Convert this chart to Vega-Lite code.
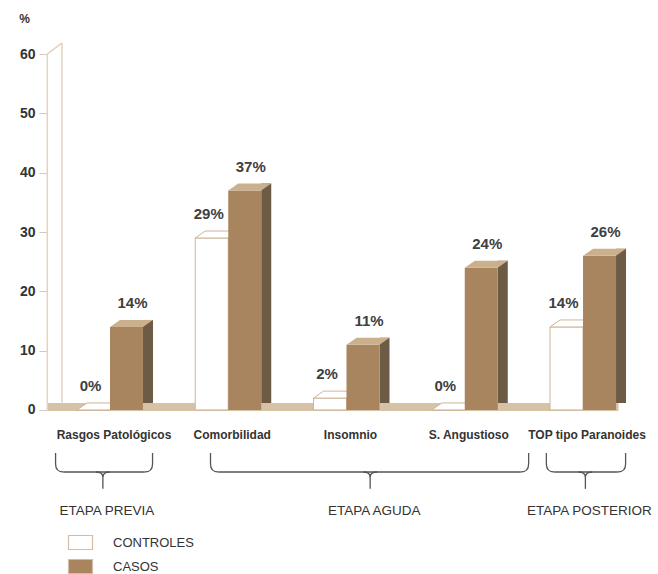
{
  "$schema": "https://vega.github.io/schema/vega-lite/v6.json",
  "width": 599,
  "height": 574,
  "autosize": {"type": "none"},
  "padding": {"left": 47, "top": 0, "right": 12, "bottom": 0},
  "background": "white",
  "config": {
    "view": {"stroke": null},
    "font": "Liberation Sans"
  },
  "datasets": {
    "tasas": [
      {"categoria": "Rasgos Patológicos", "grupo": "CONTROLES", "valor": 0.00},
      {"categoria": "Rasgos Patológicos", "grupo": "CASOS", "valor": 0.14},
      {"categoria": "Comorbilidad", "grupo": "CONTROLES", "valor": 0.29},
      {"categoria": "Comorbilidad", "grupo": "CASOS", "valor": 0.37},
      {"categoria": "Insomnio", "grupo": "CONTROLES", "valor": 0.02},
      {"categoria": "Insomnio", "grupo": "CASOS", "valor": 0.11},
      {"categoria": "S. Angustioso", "grupo": "CONTROLES", "valor": 0.00},
      {"categoria": "S. Angustioso", "grupo": "CASOS", "valor": 0.24},
      {"categoria": "TOP tipo Paranoides", "grupo": "CONTROLES", "valor": 0.14},
      {"categoria": "TOP tipo Paranoides", "grupo": "CASOS", "valor": 0.26}
    ],
    "etapas": [
      {"etapa": "ETAPA PREVIA", "desde": 0.04, "hasta": 0.86, "centro": 0.44},
      {"etapa": "ETAPA AGUDA", "desde": 1.35, "hasta": 4.04, "centro": 2.70},
      {"etapa": "ETAPA POSTERIOR", "desde": 4.19, "hasta": 4.86, "centro": 4.52}
    ],
    "una": [{}]
  },
  "resolve": {"scale": {"x": "independent"}},
  "layer": [
    {
      "description": "Floor, side wall, stage braces and stage names on a category-index x scale",
      "layer": [
        {
          "data": {"name": "una"},
          "mark": {"type": "rect", "color": "#d6c2a6", "yOffset": 1, "y2Offset": -7},
          "encoding": {
            "x": {"datum": -0.025, "type": "quantitative", "scale": {"domain": [-0.0325, 5.0325], "nice": false, "zero": false}, "axis": null},
            "x2": {"datum": 4.8},
            "y": {"datum": 0, "type": "quantitative"},
            "y2": {"datum": 0}
          }
        },
        {
          "data": {"name": "una"},
          "mark": {"type": "rule", "color": "#e2d3c2", "strokeWidth": 1.5},
          "encoding": {
            "x": {"datum": -0.03, "type": "quantitative", "axis": null},
            "y": {"datum": 0, "type": "quantitative"},
            "y2": {"datum": 0.6}
          }
        },
        {
          "data": {"name": "una"},
          "mark": {"type": "rule", "color": "#e2d3c2", "strokeWidth": 1.5},
          "encoding": {
            "x": {"datum": 0.094, "type": "quantitative", "axis": null},
            "y": {"datum": 0.012, "type": "quantitative"},
            "y2": {"datum": 0.619}
          }
        },
        {
          "data": {"name": "una"},
          "mark": {"type": "rule", "color": "#e2d3c2", "strokeWidth": 1.5},
          "encoding": {
            "x": {"datum": -0.03, "type": "quantitative", "axis": null},
            "x2": {"datum": 0.094},
            "y": {"datum": 0.6, "type": "quantitative"},
            "y2": {"datum": 0.619}
          }
        },
        {
          "data": {"name": "etapas"},
          "mark": {"type": "rule", "color": "#555555", "strokeWidth": 1.3, "xOffset": 8, "x2Offset": -8},
          "encoding": {
            "x": {"field": "desde", "type": "quantitative", "axis": null},
            "x2": {"field": "hasta"},
            "y": {"datum": -0.1046, "type": "quantitative"}
          }
        },
        {
          "data": {"name": "etapas"},
          "mark": {"type": "rule", "color": "#555555", "strokeWidth": 1.3, "y2Offset": -8},
          "encoding": {
            "x": {"field": "desde", "type": "quantitative", "axis": null},
            "y": {"datum": -0.0725, "type": "quantitative"},
            "y2": {"datum": -0.1046}
          }
        },
        {
          "data": {"name": "etapas"},
          "mark": {"type": "rule", "color": "#555555", "strokeWidth": 1.3, "y2Offset": -8},
          "encoding": {
            "x": {"field": "hasta", "type": "quantitative", "axis": null},
            "y": {"datum": -0.0725, "type": "quantitative"},
            "y2": {"datum": -0.1046}
          }
        },
        {
          "data": {"name": "etapas"},
          "mark": {"type": "point", "shape": "M 0 -8 Q 0 0 8 0", "size": 4, "filled": false, "stroke": "#555555", "strokeWidth": 1.3, "opacity": 1},
          "encoding": {
            "x": {"field": "desde", "type": "quantitative", "axis": null},
            "y": {"datum": -0.1046, "type": "quantitative"}
          }
        },
        {
          "data": {"name": "etapas"},
          "mark": {"type": "point", "shape": "M 0 -8 Q 0 0 -8 0", "size": 4, "filled": false, "stroke": "#555555", "strokeWidth": 1.3, "opacity": 1},
          "encoding": {
            "x": {"field": "hasta", "type": "quantitative", "axis": null},
            "y": {"datum": -0.1046, "type": "quantitative"}
          }
        },
        {
          "data": {"name": "etapas"},
          "mark": {"type": "point", "shape": "M -7 0 Q 0 0 0 5 Q 0 0 7 0", "size": 4, "filled": false, "stroke": "#555555", "strokeWidth": 1.3, "opacity": 1},
          "encoding": {
            "x": {"field": "centro", "type": "quantitative", "axis": null},
            "y": {"datum": -0.1046, "type": "quantitative"}
          }
        },
        {
          "data": {"name": "etapas"},
          "mark": {"type": "rule", "color": "#555555", "strokeWidth": 1.3, "yOffset": 4},
          "encoding": {
            "x": {"field": "centro", "type": "quantitative", "axis": null},
            "y": {"datum": -0.1046, "type": "quantitative"},
            "y2": {"datum": -0.133}
          }
        },
        {
          "data": {"name": "etapas"},
          "mark": {"type": "text", "fontSize": 13.5, "color": "#333333", "xOffset": 4, "baseline": "middle"},
          "encoding": {
            "x": {"field": "centro", "type": "quantitative", "axis": null},
            "y": {"datum": -0.17, "type": "quantitative"},
            "text": {"field": "etapa"}
          }
        }
      ]
    },
    {
      "description": "Pseudo-3D grouped bars on a band x scale",
      "data": {"name": "tasas"},
      "encoding": {
        "x": {
          "field": "categoria",
          "type": "nominal",
          "sort": ["Rasgos Patológicos", "Comorbilidad", "Insomnio", "S. Angustioso", "TOP tipo Paranoides"],
          "scale": {"paddingInner": 0, "paddingOuter": 0.0325},
          "axis": null
        },
        "y": {
          "field": "valor",
          "type": "quantitative",
          "scale": {"domain": [-0.2766, 0.6914], "nice": false, "zero": false},
          "axis": {
            "values": [0, 0.1, 0.2, 0.3, 0.4, 0.5, 0.6],
            "labelExpr": "round(datum.value * 100)",
            "domain": false,
            "grid": false,
            "tickSize": 8,
            "tickColor": "#d9c8b6",
            "labelFontSize": 14,
            "labelFontWeight": "bold",
            "labelColor": "#333333",
            "labelPadding": 4,
            "title": "%",
            "titleAngle": 0,
            "titleX": -23,
            "titleY": 18,
            "titleAlign": "center",
            "titleBaseline": "middle",
            "titleFontSize": 12,
            "titleFontWeight": "bold",
            "titleColor": "#333333"
          }
        }
      },
      "layer": [
        {
          "transform": [{"filter": "datum.grupo === 'CASOS'"}],
          "mark": {"type": "text", "fontSize": 12, "fontWeight": "bold", "color": "#333333", "xOffset": 4, "baseline": "middle"},
          "encoding": {
            "y": {"datum": -0.042, "type": "quantitative"},
            "text": {"field": "categoria"}
          }
        },
        {
          "transform": [{"filter": "datum.grupo === 'CONTROLES'"}],
          "mark": {"type": "bar", "width": 33, "xOffset": -16.5, "stroke": "#cdb49b", "strokeWidth": 1},
          "encoding": {
            "fill": {
              "field": "grupo",
              "type": "nominal",
              "scale": {"domain": ["CONTROLES", "CASOS"], "range": ["#ffffff", "#a8855e"]},
              "legend": {
                "orient": "none",
                "legendX": 27,
                "legendY": 536,
                "title": null,
                "symbolType": "M -12 -7 H 12 V 7 H -12 Z",
                "symbolSize": 4,
                "symbolStrokeColor": "#d2bca5",
                "symbolStrokeWidth": 1.2,
                "symbolOpacity": 1,
                "labelOffset": 26,
                "labelFontSize": 13,
                "labelColor": "#333333",
                "rowPadding": 5
              }
            }
          }
        },
        {
          "transform": [{"filter": "datum.grupo === 'CONTROLES'"}],
          "mark": {"type": "point", "shape": "M -33 0 L 0 0 L 10 -7 L -23 -7 Z", "size": 4, "filled": true, "fill": "#ffffff", "stroke": "#cdb49b", "strokeWidth": 1, "opacity": 1}
        },
        {
          "transform": [{"filter": "datum.grupo === 'CASOS'"}],
          "mark": {"type": "bar", "width": 10, "xOffset": 38, "yOffset": -7, "y2Offset": -7, "color": "#6e5b45"}
        },
        {
          "transform": [{"filter": "datum.grupo === 'CASOS'"}],
          "mark": {"type": "bar", "width": 33, "xOffset": 16.5},
          "encoding": {
            "fill": {"field": "grupo", "type": "nominal"}
          }
        },
        {
          "transform": [{"filter": "datum.grupo === 'CASOS'"}],
          "mark": {"type": "point", "shape": "M 0 0 L 33 0 L 43 -7 L 10 -7 Z", "size": 4, "filled": true, "fill": "#cbb08d", "strokeWidth": 0, "opacity": 1}
        },
        {
          "transform": [{"filter": "datum.grupo === 'CONTROLES'"}],
          "mark": {"type": "text", "fontSize": 15, "fontWeight": "bold", "color": "#404040", "xOffset": -19.5, "dy": -24, "baseline": "middle"},
          "encoding": {
            "text": {"field": "valor", "format": ".0%"}
          }
        },
        {
          "transform": [{"filter": "datum.grupo === 'CASOS'"}],
          "mark": {"type": "text", "fontSize": 15, "fontWeight": "bold", "color": "#404040", "xOffset": 22.5, "dy": -24, "baseline": "middle"},
          "encoding": {
            "text": {"field": "valor", "format": ".0%"}
          }
        }
      ]
    }
  ]
}
